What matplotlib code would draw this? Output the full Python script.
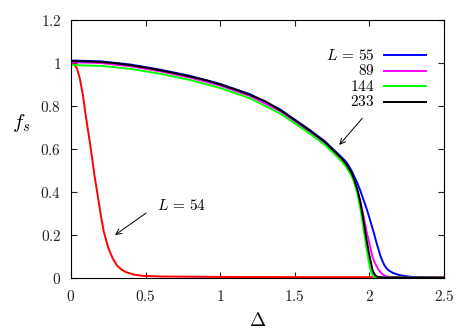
import matplotlib
matplotlib.use('Agg')
import matplotlib.pyplot as plt
from matplotlib.ticker import MultipleLocator, FuncFormatter

plt.rcParams['mathtext.fontset'] = 'cm'
plt.rcParams['font.family'] = 'serif'
plt.rcParams['font.serif'] = ['DejaVu Serif']

# L = 55, 89, 144, 233 (upper curves), L = 54 (red)
d_55 = [0, 0.2, 0.4, 0.6, 0.8, 1.0, 1.2, 1.4, 1.6, 1.7, 1.78, 1.82, 1.85, 1.88, 1.9,
        1.92, 1.94, 1.955, 1.97, 1.985, 2.0, 2.015, 2.03, 2.045, 2.06, 2.075, 2.09,
        2.1, 2.115, 2.13, 2.16, 2.2, 2.25, 2.3, 2.4, 2.5]
f_55 = [1.012, 1.008, 0.993, 0.969, 0.940, 0.903, 0.855, 0.785, 0.689, 0.637, 0.584,
        0.558, 0.535, 0.50, 0.47, 0.44, 0.405, 0.375, 0.345, 0.315, 0.28, 0.245, 0.21,
        0.17, 0.135, 0.10, 0.075, 0.06, 0.045, 0.035, 0.023, 0.014, 0.008, 0.004,
        0.002, 0.001]

d_89 = [0, 0.2, 0.4, 0.6, 0.8, 1.0, 1.2, 1.4, 1.6, 1.7, 1.78, 1.82, 1.85, 1.88, 1.9,
        1.92, 1.94, 1.96, 1.98, 2.0, 2.02, 2.04, 2.06, 2.08, 2.1, 2.12, 2.15, 2.2, 2.5]
f_89 = [1.004, 1.000, 0.985, 0.961, 0.932, 0.895, 0.847, 0.777, 0.681, 0.629, 0.575,
        0.548, 0.520, 0.485, 0.45, 0.405, 0.355, 0.29, 0.22, 0.16, 0.10, 0.065, 0.04,
        0.022, 0.012, 0.007, 0.004, 0.002, 0.001]

d_144 = [0, 0.2, 0.4, 0.6, 0.8, 1.0, 1.2, 1.4, 1.6, 1.7, 1.78, 1.82, 1.85, 1.88, 1.9,
         1.92, 1.94, 1.96, 1.98, 2.0, 2.01, 2.02, 2.03, 2.04, 2.1, 2.5]
f_144 = [0.991, 0.987, 0.973, 0.950, 0.921, 0.884, 0.836, 0.766, 0.672, 0.620, 0.567,
         0.538, 0.510, 0.475, 0.44, 0.39, 0.32, 0.23, 0.14, 0.06, 0.032, 0.015, 0.007,
         0.004, 0.002, 0.001]

d_233 = [0, 0.1, 0.2, 0.3, 0.4, 0.5, 0.6, 0.7, 0.8, 0.9, 1.0, 1.1, 1.2, 1.3, 1.4, 1.5,
         1.6, 1.7, 1.78, 1.82, 1.85, 1.88, 1.9, 1.92, 1.94, 1.96, 1.98, 2.0, 2.02,
         2.03, 2.04, 2.05, 2.07, 2.1, 2.5]
f_233 = [1.009, 1.008, 1.005, 0.999, 0.990, 0.979, 0.966, 0.952, 0.937, 0.921, 0.900,
         0.877, 0.852, 0.823, 0.782, 0.735, 0.686, 0.634, 0.580, 0.553, 0.525, 0.49,
         0.455, 0.41, 0.35, 0.27, 0.18, 0.105, 0.04, 0.022, 0.012, 0.007, 0.004,
         0.002, 0.001]

d_54 = [0, 0.02, 0.04, 0.06, 0.08, 0.1, 0.12, 0.14, 0.16, 0.18, 0.2, 0.22, 0.25, 0.28,
        0.31, 0.34, 0.37, 0.42, 0.48, 0.6, 0.8, 1.0, 1.5, 2.0, 2.5]
f_54 = [1.005, 0.995, 0.975, 0.925, 0.85, 0.75, 0.66, 0.565, 0.465, 0.38, 0.29, 0.215,
        0.14, 0.09, 0.057, 0.038, 0.027, 0.016, 0.01, 0.007, 0.006, 0.005, 0.004,
        0.004, 0.003]

series = [
    (d_55, f_55, '#0000ff', r'$L\,=\,55$'),
    (d_89, f_89, '#ff00ff', '$89$'),
    (d_144, f_144, '#00ff00', '$144$'),
    (d_233, f_233, '#000000', '$233$'),
]

fig = plt.figure(figsize=(4.69, 3.29), dpi=100)
ax = fig.add_axes([0.1514, 0.155, 0.7953, 0.784])

ax.plot(d_54, f_54, color='#ff0000', lw=1.4)
for d, f, c, lab in series:
    ax.plot(d, f, color=c, lw=1.4)

# legend drawn by hand: right-aligned labels, sample line on the right
rows = [0.864, 0.8035, 0.744, 0.683]
for (d, f, c, lab), yr in zip(series, rows):
    ax.text(0.813, yr, lab, transform=ax.transAxes, ha='right', va='center', fontsize=11)
    ax.plot([0.840, 0.951], [yr, yr], transform=ax.transAxes, color=c, lw=1.4)

arrow = dict(arrowstyle='->', color='black', lw=0.7, shrinkA=0, shrinkB=0)
ax.annotate('', xy=(0.295, 0.2), xytext=(0.503, 0.302), arrowprops=arrow)
ax.text(0.576, 0.335, r'$L\,=\,54$', ha='left', va='center', fontsize=11)
ax.annotate('', xy=(1.798, 0.619), xytext=(1.952, 0.743), arrowprops=arrow)

ax.set_xlim(0, 2.5)
ax.set_ylim(0, 1.2)
ax.xaxis.set_major_locator(MultipleLocator(0.5))
ax.yaxis.set_major_locator(MultipleLocator(0.2))
fmt = FuncFormatter(lambda v, p: '$%g$' % round(v, 2))
ax.xaxis.set_major_formatter(fmt)
ax.yaxis.set_major_formatter(fmt)
ax.tick_params(direction='in', top=True, right=True, length=4, width=0.8,
               labelsize=11, colors='#222222')
ax.tick_params(axis='x', pad=8)
ax.tick_params(axis='y', pad=7)
for s in ax.spines.values():
    s.set_linewidth(0.8)

ax.set_xlabel(r'$\Delta$', fontsize=14)
ax.xaxis.set_label_coords(0.501, -0.13)
ax.set_ylabel('$f_s$', fontsize=15, rotation=0)
ax.yaxis.set_label_coords(-0.134, 0.56)

fig.savefig('out.png', dpi=100)
